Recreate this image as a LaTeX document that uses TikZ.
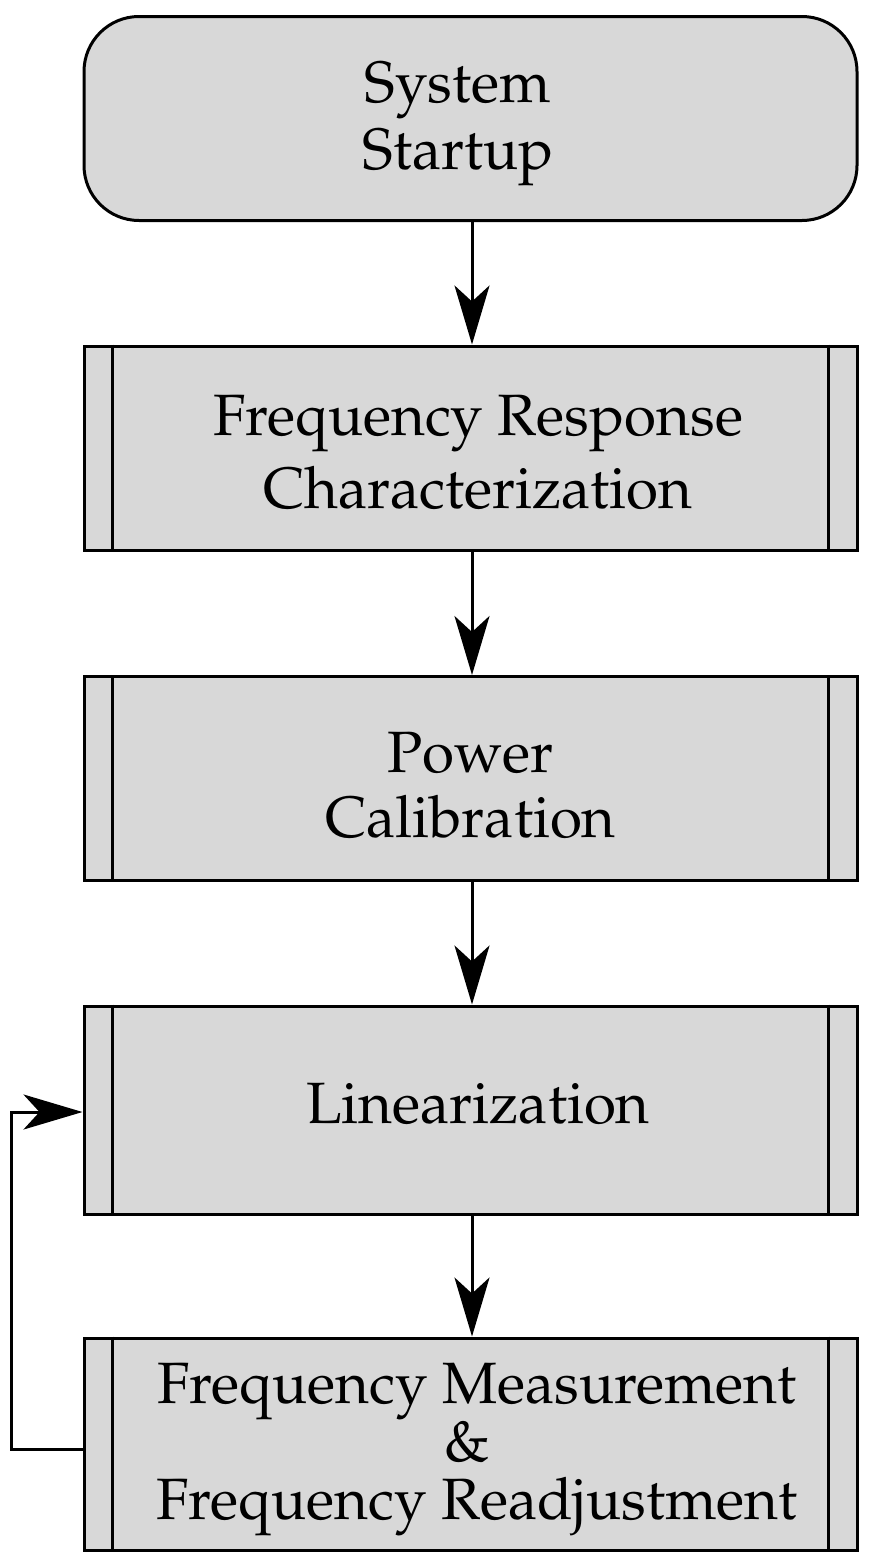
\documentclass[tikz,border=0pt]{standalone}
\usepackage[T1]{fontenc}
\usetikzlibrary{arrows.meta}
\definecolor{boxfill}{RGB}{216,216,216}
\begin{document}
\begin{tikzpicture}[x=1pt,y=-1pt,line width=3pt,
  proc/.style={draw, fill=boxfill, minimum width=773pt, minimum height=204pt, inner sep=0pt},
  startbox/.style={proc, rounded corners=55pt},
  txt/.style={inner sep=0pt, align=center, font=\fontfamily{ppl}\fontsize{58.3}{#1}\selectfont},
  txt/.default=66,
  arr/.style={-{Stealth[length=59pt,width=35pt,inset=16pt]}, line width=3pt},
  bar/.style={line width=3pt}
]
\useasboundingbox (0,0) rectangle (868,1566);
% boxes
\node[startbox] (s) at (470.5,118.5) {};
\node[proc] (b2) at (470.5,448) {};
\node[proc] (b3) at (470.5,778.5) {};
\node[proc, minimum height=208pt] (b4) at (470.5,1110) {};
\node[proc, minimum height=212pt] (b5) at (470.5,1444) {};
\foreach \b in {b2,b3,b4,b5}{
  \draw[bar] ([xshift=30pt]\b.north west) -- ([xshift=30pt]\b.south west);
  \draw[bar] ([xshift=-30pt]\b.north east) -- ([xshift=-30pt]\b.south east);
}
% texts
\node[txt=67] (ts) at (458,124) {System\\Startup};
\node[txt=73] (t2) at (478,452) {Frequency Response\\Characterization};
\node[txt=65] (t3) at (470.5,785) {Power\\Calibration};
\node[txt] (t4) at (478,1104) {Linearization};
\node[txt=58] (t5) at (477,1449) {Frequency Measurement\\\hspace*{-20pt}\&\\Frequency Readjustment};
% connectors
\draw[arr] ([xshift=1.5pt]s.south) -- ([xshift=1.5pt]b2.north);
\draw[arr] ([xshift=1.5pt]b2.south) -- ([xshift=1.5pt]b3.north);
\draw[arr] ([xshift=1.5pt]b3.south) -- ([xshift=1.5pt]b4.north);
\draw[arr] ([xshift=1.5pt]b4.south) -- ([xshift=1.5pt]b5.north);
\draw[arr] ([yshift=-5pt]b5.west) -- ++(-71,0) |- ([yshift=-2pt]b4.west);
\end{tikzpicture}
\end{document}
